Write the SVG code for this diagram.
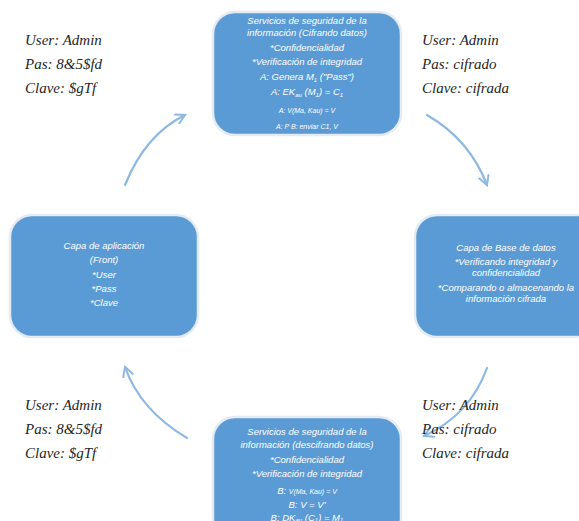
<svg xmlns="http://www.w3.org/2000/svg" width="579" height="521" viewBox="0 0 579 521">
<style>
.node{fill:#5b9bd5;stroke:#e4ebf3;stroke-width:2.5}
.nt{font-family:"Liberation Sans",Arial,sans-serif;font-style:italic;font-size:9.5px;fill:#ffffff;text-anchor:middle}
.sm{font-size:6px}
.sm7{font-size:7px}
.lab{font-family:"Liberation Serif","Times New Roman",serif;font-style:italic;font-size:15px;fill:#262626}
.arr{fill:none;stroke:#8db8e2;stroke-width:2.2;stroke-linecap:round}
</style>
<defs>
<marker id="ah" viewBox="0 0 12 12" refX="10" refY="6" markerWidth="12" markerHeight="12" markerUnits="userSpaceOnUse" orient="auto">
<path d="M1,1 L10,6 L1,11" fill="none" stroke="#8db8e2" stroke-width="2" stroke-linecap="round"/>
</marker>
</defs>
<rect width="579" height="521" fill="#ffffff"/>
<g id="connectors">
<path class="arr" d="M125,185 Q145,135 185,115" marker-end="url(#ah)"/>
<path class="arr" d="M427,115 Q470,140 487,185" marker-end="url(#ah)"/>
<path class="arr" d="M487,368 Q470,415 424,436" marker-end="url(#ah)"/>
<path class="arr" d="M187,438 Q140,410 125,367" marker-end="url(#ah)"/>
</g>
<g id="node-top">
<rect class="node" x="213" y="12" width="188" height="123" rx="22"/>
<text class="nt" x="307" y="24">Servicios de seguridad de la</text>
<text class="nt" x="307" y="36">información (Cifrando datos)</text>
<text class="nt" x="307" y="51">*Confidencialidad</text>
<text class="nt" x="307" y="65">*Verificación de integridad</text>
<text class="nt" x="307" y="80">A: Genera M<tspan class="sm" dy="2">1</tspan><tspan dy="-2"> ("Pass")</tspan></text>
<text class="nt" x="307" y="95">A: EK<tspan class="sm" dy="2">au</tspan><tspan dy="-2"> (M</tspan><tspan class="sm" dy="2">1</tspan><tspan dy="-2">) = C</tspan><tspan class="sm" dy="2">1</tspan></text>
<text class="nt sm7" x="307" y="113">A: V(Ma, Kau) = V</text>
<text class="nt sm7" x="307" y="129">A: P    B: enviar    C1, V</text>
</g>
<g id="node-left">
<rect class="node" x="10" y="215" width="188" height="122" rx="22"/>
<text class="nt" x="104" y="249">Capa de aplicación</text>
<text class="nt" x="104" y="263">(Front)</text>
<text class="nt" x="104" y="278">*User</text>
<text class="nt" x="104" y="292">*Pass</text>
<text class="nt" x="104" y="306">*Clave</text>
</g>
<g id="node-right">
<rect class="node" x="415" y="215" width="188" height="122" rx="22"/>
<text class="nt" x="506" y="251">Capa de Base de datos</text>
<text class="nt" x="506" y="265">*Verificando integridad y</text>
<text class="nt" x="506" y="276">confidencialidad</text>
<text class="nt" x="506" y="291">*Comparando o almacenando la</text>
<text class="nt" x="506" y="302">información cifrada</text>
</g>
<g id="node-bottom">
<rect class="node" x="213" y="417" width="188" height="123" rx="22"/>
<text class="nt" x="307" y="435">Servicios de seguridad de la</text>
<text class="nt" x="307" y="448">información (descifrando datos)</text>
<text class="nt" x="307" y="463">*Confidencialidad</text>
<text class="nt" x="307" y="477">*Verificación de integridad</text>
<text class="nt" x="307" y="494">B: <tspan class="sm7">V(Ma, Kau) = V</tspan></text>
<text class="nt" x="307" y="508">B: V = V'</text>
<text class="nt" x="307" y="521">B: DK<tspan class="sm" dy="1">au</tspan><tspan dy="-1"> (C</tspan><tspan class="sm" dy="1">1</tspan><tspan dy="-1">) = M</tspan><tspan class="sm" dy="1">1</tspan></text>
</g>
<g id="labels">
<text class="lab" x="25" y="45">User: Admin</text>
<text class="lab" x="25" y="69">Pas: 8&amp;5$fd</text>
<text class="lab" x="25" y="93">Clave: $gTf</text>
<text class="lab" x="422" y="45">User: Admin</text>
<text class="lab" x="422" y="69">Pas: cifrado</text>
<text class="lab" x="422" y="93">Clave: cifrada</text>
<text class="lab" x="25" y="410">User: Admin</text>
<text class="lab" x="25" y="434">Pas: 8&amp;5$fd</text>
<text class="lab" x="25" y="458">Clave: $gTf</text>
<text class="lab" x="422" y="410">User: Admin</text>
<text class="lab" x="422" y="434">Pas: cifrado</text>
<text class="lab" x="422" y="458">Clave: cifrada</text>
</g>
</svg>
